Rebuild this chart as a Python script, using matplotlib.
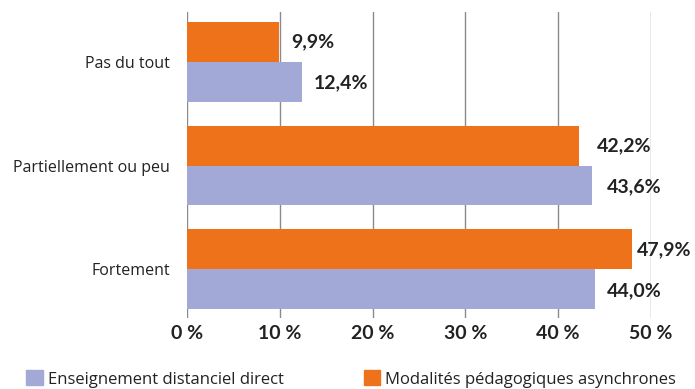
import matplotlib.pyplot as plt
import numpy as np
from matplotlib.patches import Patch

categories = ['Pas du tout', 'Partiellement ou peu', 'Fortement']
asynchrones = [9.9, 42.2, 47.9]
direct = [12.4, 43.6, 44.0]
xticks = [0, 10, 20, 30, 40, 50]

orange = '#EE7219'
lavender = '#A2A9D6'
dark = '#222222'

# horizontal gap between bar end and its label, in points
gap_async = [9, 13, 3.5]
gap_direct = [8.5, 11, 8.5]

plt.rcParams['font.family'] = ['Open Sans', 'DejaVu Sans']
bold = ['Lato', 'DejaVu Sans']

fig = plt.figure(figsize=(6.95, 3.89), dpi=100)
ax = fig.add_axes([187 / 695, 71 / 389, 464 / 695, 306 / 389])

y = np.arange(len(categories))
h = 0.385
ax.barh(y - h / 2, asynchrones, height=h, color=orange, zorder=3)
ax.barh(y + h / 2, direct, height=h, color=lavender, zorder=3)

# data labels
for i, v in enumerate(asynchrones):
    ax.annotate(f'{v:.1f}%'.replace('.', ','), (v, i - h / 2), xytext=(gap_async[i], 0),
                textcoords='offset points', ha='left', va='center', family=bold,
                fontsize=14, fontweight='bold', color=dark, zorder=4)
for i, v in enumerate(direct):
    ax.annotate(f'{v:.1f}%'.replace('.', ','), (v, i + h / 2), xytext=(gap_direct[i], -1),
                textcoords='offset points', ha='left', va='center', family=bold,
                fontsize=14, fontweight='bold', color=dark, zorder=4)

ax.set_xlim(0, 50)
ax.set_ylim(2.47, -0.48)
ax.set_xticks(xticks)
ax.set_xticklabels([f'{t} %' for t in xticks], fontsize=14, fontweight='bold',
                   color=dark, family=bold)
ax.set_yticks(y)
ax.set_yticklabels(categories, fontsize=11.5, color=dark)
ax.tick_params(axis='both', length=0)
ax.tick_params(axis='x', pad=5)
ax.tick_params(axis='y', pad=12)
ax.grid(axis='x', color='#8a8a8a', linewidth=1, zorder=0)
for s in ax.spines.values():
    s.set_visible(False)

handles = [Patch(color=lavender), Patch(color=orange)]
fig.legend(handles, ['Enseignement distanciel direct', 'Modalités pédagogiques asynchrones'],
           loc='center left', bbox_to_anchor=(26 / 695, 1 - 379 / 389), ncol=2,
           frameon=False, borderpad=0, borderaxespad=0,
           fontsize=12, handlelength=1.0, handleheight=1.0, handletextpad=0.3,
           columnspacing=4.8, labelcolor=dark)

fig.savefig('out.png', dpi=100)
